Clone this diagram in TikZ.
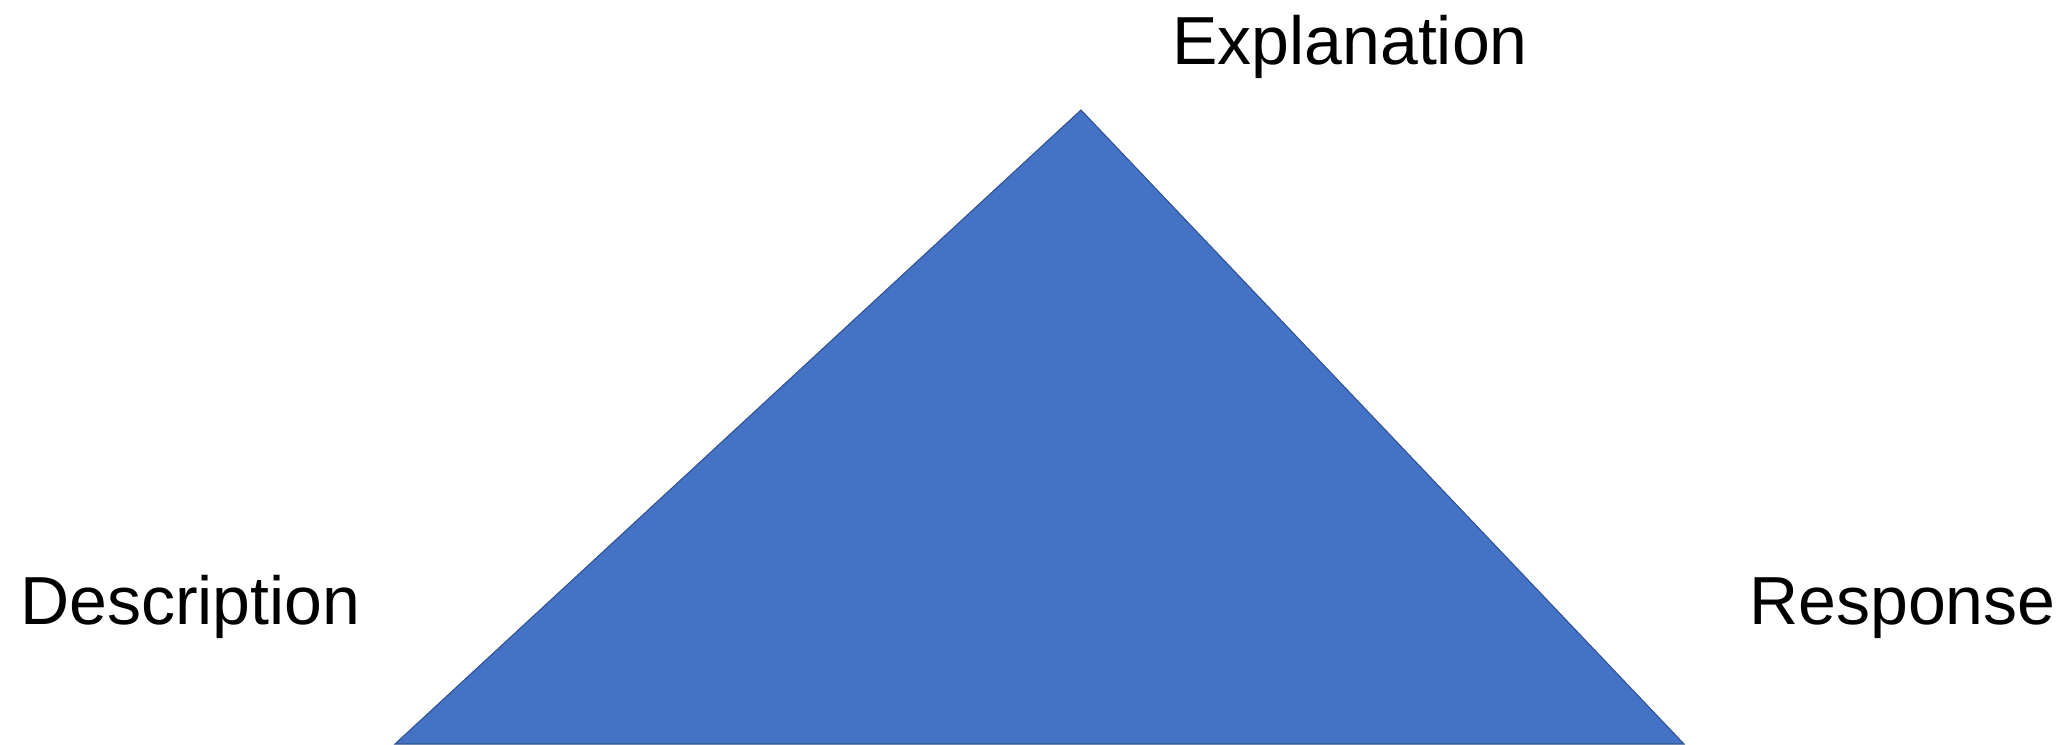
\documentclass[tikz,border=0pt]{standalone}
\usepackage{fontspec}
\setmainfont{Liberation Sans}
\usepackage{xcolor}
\usepackage{tikz}
\usetikzlibrary{positioning}
\definecolor{triblue}{HTML}{4472C4}
\definecolor{triedge}{HTML}{2F528F}

\begin{document}
\begin{tikzpicture}[
        x={(0.02cm,0)}, y={(0,-0.02cm)},
        corner/.style={font=\fontsize{38.7pt}{46pt}\selectfont, inner sep=0pt, anchor=base west},
        tri/.style={fill=triblue, draw=triedge, line width=0.6pt, line join=miter}
    ]
        \useasboundingbox (0,0) rectangle (2065,744);

        % Triangle corners
        \coordinate (top) at (1081,110);
        \coordinate (bl) at (395,744);
        \coordinate (br) at (1684,744);

        % Triangle
        \fill[tri] (top) -- (br) -- (bl) -- cycle;

        % Labels
        \node[corner] (expl) at (1172,64) {Explanation};
        \node[corner] (desc) at (20,624) {Description};
        \node[corner] (resp) at (1749,624) {Response};
    \end{tikzpicture}
\end{document}
